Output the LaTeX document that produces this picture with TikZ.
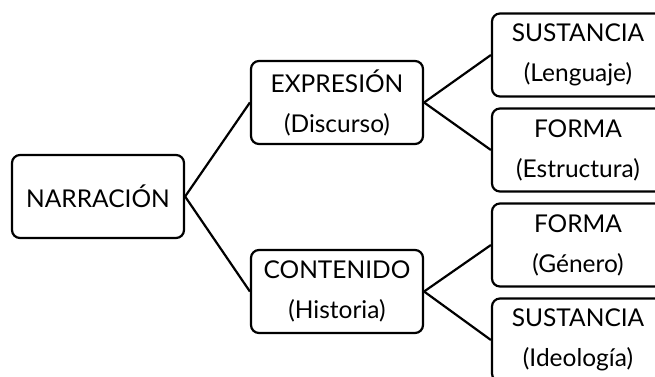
\documentclass[tikz,border=0pt]{standalone}
\usepackage{fontspec}
\setmainfont{Lato}
\begin{document}
\begin{tikzpicture}[x=1pt, y=-1pt,
		box/.style={draw=black, line width=2.2pt, rounded corners=8pt, fill=white,
			minimum width=172, minimum height=83, inner sep=0pt, align=center,
			font=\fontsize{24.5}{40}\selectfont},
		link/.style={draw=black, line width=2.2pt}]
		\useasboundingbox (0,0) rectangle (655,376);
		\clip (0,0) rectangle (655,376);
		
		% root
		\node[box] (narr) at (98,196.5) {NARRACIÓN};
		
		% middle level
		\node[box] (expr) at (337,102.5) {EXPRESIÓN\\(Discurso)};
		\node[box] (cont) at (337,291.5) {CONTENIDO\\(Historia)};
		
		% right level, partly cut by the frame
		\node[box] (sustL) at (578,55) {SUSTANCIA\\(Lenguaje)};
		\node[box] (formE) at (578,150) {FORMA\\(Estructura)};
		\node[box] (formG) at (578,245) {FORMA\\(Género)};
		\node[box] (sustI) at (578,340) {SUSTANCIA\\(Ideología)};
		
		% connect the boxes
		\draw[link] (narr.east) -- (expr.west);
		\draw[link] (narr.east) -- (cont.west);
		\draw[link] (expr.east) -- (sustL.west);
		\draw[link] (expr.east) -- (formE.west);
		\draw[link] (cont.east) -- (formG.west);
		\draw[link] (cont.east) -- (sustI.west);
	\end{tikzpicture}
\end{document}
